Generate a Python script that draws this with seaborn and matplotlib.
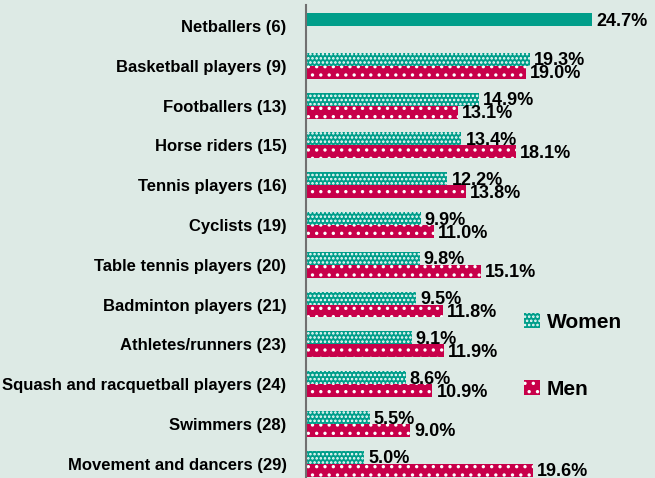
import numpy as np
import pandas as pd
import matplotlib
matplotlib.use("Agg")
import matplotlib.pyplot as plt
import seaborn as sns
from matplotlib.patches import Patch

sports = [
    "Netballers (6)",
    "Basketball players (9)",
    "Footballers (13)",
    "Horse riders (15)",
    "Tennis players (16)",
    "Cyclists (19)",
    "Table tennis players (20)",
    "Badminton players (21)",
    "Athletes/runners (23)",
    "Squash and racquetball players (24)",
    "Swimmers (28)",
    "Movement and dancers (29)",
]
women = [24.7, 19.3, 14.9, 13.4, 12.2, 9.9, 9.8, 9.5, 9.1, 8.6, 5.5, 5.0]
men = [np.nan, 19.0, 13.1, 18.1, 13.8, 11.0, 15.1, 11.8, 11.9, 10.9, 9.0, 19.6]

teal = "#009E8A"
crimson = "#C8004A"
bg = "#DDEAE5"

df = pd.DataFrame({
    "sport": sports * 2,
    "pct": women + men,
    "sex": ["Women"] * len(sports) + ["Men"] * len(sports),
})

sns.set_style("white")
plt.rcParams["font.family"] = ["Liberation Sans", "DejaVu Sans"]
plt.rcParams["hatch.color"] = "white"
plt.rcParams["hatch.linewidth"] = 1.2

fig = plt.figure(figsize=(6.55, 4.78), dpi=100, facecolor=bg)
ax = fig.add_axes([306 / 655, 0, 349 / 655, 1 - 5 / 478])
ax.set_facecolor(bg)

sns.barplot(data=df, y="sport", x="pct", hue="sex", orient="h",
            palette={"Women": teal, "Men": crimson}, width=0.65,
            order=sports, hue_order=["Women", "Men"], legend=False,
            saturation=1, ax=ax)

hatches = ["....", ".."]
for k, cont in enumerate(ax.containers):
    for p in cont.patches:
        p.set_edgecolor("white")
        p.set_linewidth(0)
        p.set_hatch(hatches[k])
    vals = [v for v in (women if k == 0 else men) if not np.isnan(v)]
    for p, v in zip(cont.patches, vals):
        ax.text(p.get_width() + 0.35, p.get_y() + p.get_height() / 2 + 0.04,
                f"{v:.1f}%", va="center", ha="left", fontsize=13,
                fontweight="bold", color="black")

# netballers bar is drawn solid in the original
ax.containers[0].patches[0].set_hatch(None)

ax.set_xlim(0, 30.1)
ax.set_ylim(11.36, -0.53)
ax.set_xlabel("")
ax.set_ylabel("")
ax.set_xticks([])
ax.tick_params(axis="y", length=0, pad=14, labelsize=12, labelcolor="black")
for lbl in ax.get_yticklabels():
    lbl.set_fontweight("bold")
for s in ["top", "right", "bottom"]:
    ax.spines[s].set_visible(False)
ax.spines["left"].set_color("#707070")
ax.spines["left"].set_linewidth(1.5)

handles = [
    Patch(facecolor=teal, edgecolor="white", linewidth=0, hatch="...."),
    Patch(facecolor=crimson, edgecolor="white", linewidth=0, hatch=".."),
]
fig.legend(handles, ["Women", "Men"], loc="center left",
           bbox_to_anchor=(524 / 655, 1 - 356 / 478), frameon=False,
           prop={"size": 15, "weight": "bold"}, labelcolor="black",
           borderpad=0, borderaxespad=0, handlelength=0.76,
           handleheight=0.76, handletextpad=0.33, labelspacing=2.3)

fig.savefig("out.png", dpi=100, facecolor=bg)
